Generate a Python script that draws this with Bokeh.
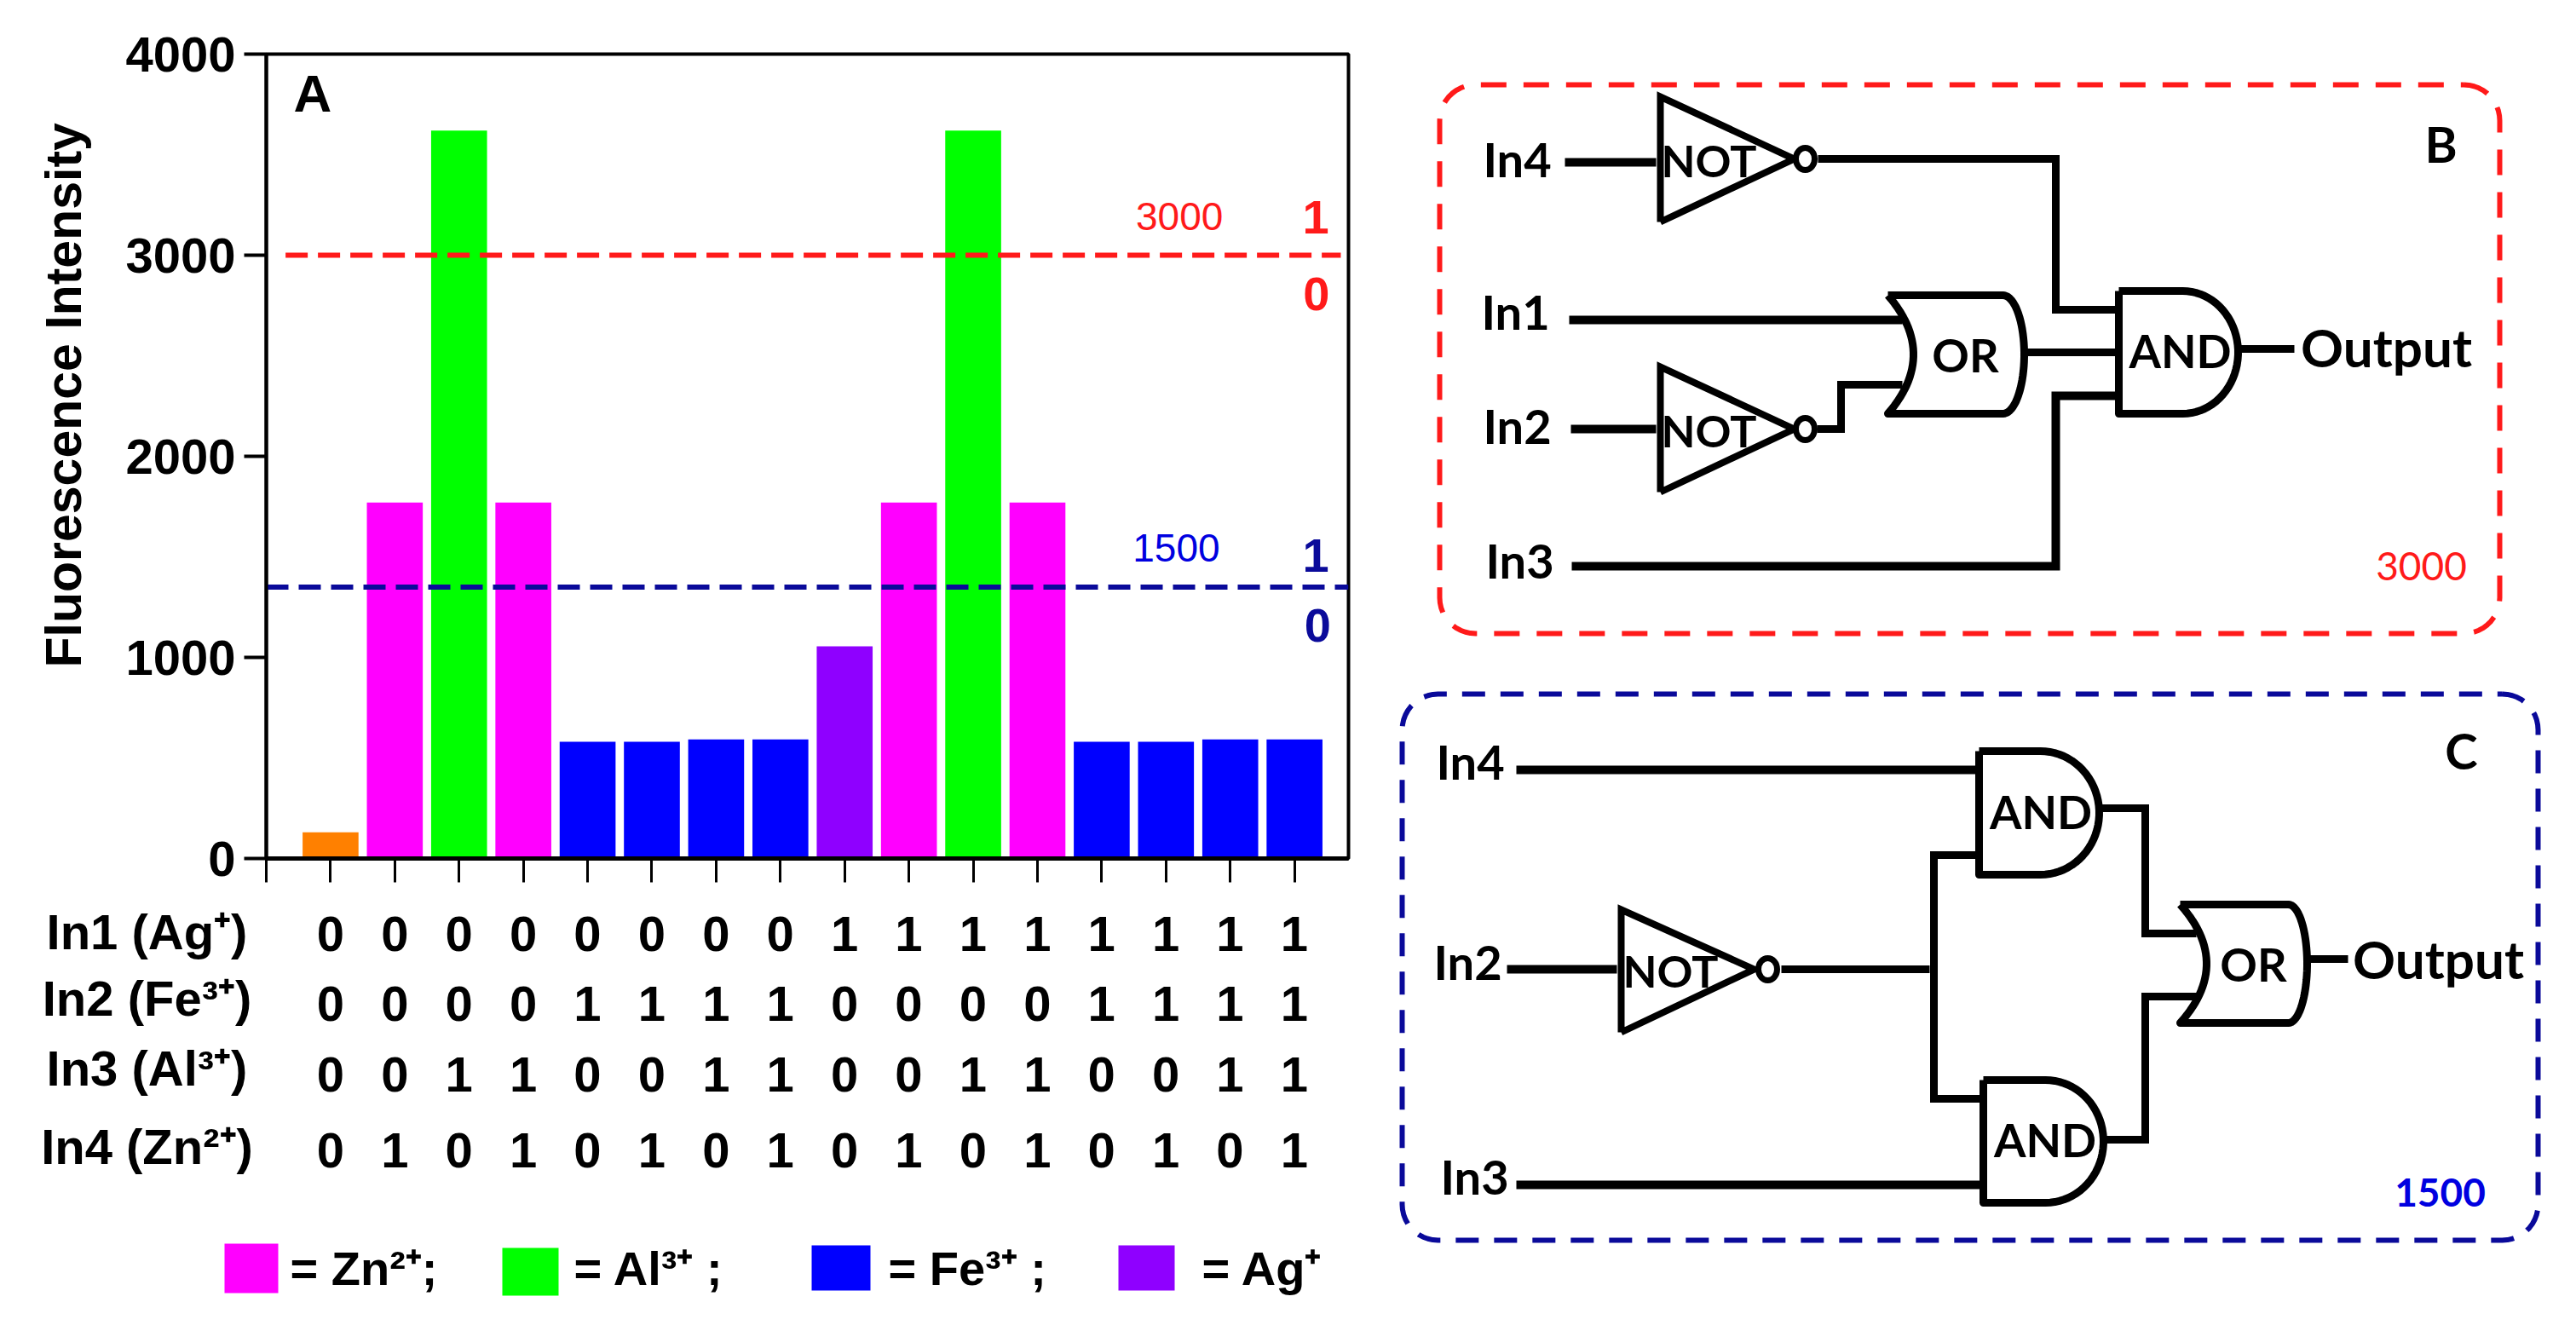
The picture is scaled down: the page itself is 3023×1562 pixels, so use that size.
import numpy as np
from bokeh.plotting import figure
from bokeh.layouts import row, column
from bokeh.models import Range1d, FixedTicker, Title
from bokeh.core.properties import value
from bokeh.embed import file_html
from bokeh.resources import INLINE

# ---------- data ----------
positions = list(range(1, 17))
intensity = [130, 1770, 3620, 1770, 580, 580, 592, 592, 1055, 1770, 3620, 1770, 580, 580, 592, 592]
bar_colors = ["#FF8000", "#FF00FF", "#00FF00", "#FF00FF", "#0000FF", "#0000FF", "#0000FF", "#0000FF",
              "#8F00FF", "#FF00FF", "#00FF00", "#FF00FF", "#0000FF", "#0000FF", "#0000FF", "#0000FF"]
y_ticks = [0, 1000, 2000, 3000, 4000]
x_ticks = list(range(0, 17))
red_threshold = 3000
blue_threshold = 1350
in1 = [0, 0, 0, 0, 0, 0, 0, 0, 1, 1, 1, 1, 1, 1, 1, 1]
in2 = [0, 0, 0, 0, 1, 1, 1, 1, 0, 0, 0, 0, 1, 1, 1, 1]
in3 = [0, 0, 1, 1, 0, 0, 1, 1, 0, 0, 1, 1, 0, 0, 1, 1]
in4 = [0, 1, 0, 1, 0, 1, 0, 1, 0, 1, 0, 1, 0, 1, 0, 1]
row_labels = ["In1 (Ag⁺)", "In2 (Fe³⁺)", "In3 (Al³⁺)", "In4 (Zn²⁺)"]
legend_labels = ["= Zn²⁺;", "= Al³⁺ ;", "= Fe³⁺ ;", "= Ag⁺"]
legend_colors = ["#FF00FF", "#00FF00", "#0000FF", "#8F00FF"]

ARIAL = value("Liberation Sans")
LATO = value("Lato")
RED = "#FF1A1A"
NAVY = "#0A0A9A"

# ---------- panel A ----------
px_per_unit = 75.4
A = figure(width=1640, height=1040, x_range=Range1d(0, 16.84), y_range=Range1d(0, 4000),
           output_backend="svg", toolbar_location=None, frame_align=False,
           min_border_left=312, min_border_right=58, min_border_top=63, min_border_bottom=33)
A.grid.visible = False
A.outline_line_color = "black"
A.outline_line_width = 4
A.background_fill_color = "white"
A.vbar(x=positions, top=intensity, bottom=0, width=0.87, fill_color=bar_colors, line_color=None)
A.line([0.3, 16.72], [red_threshold, red_threshold], line_color=RED, line_width=6, line_dash="26 12")
A.line([0, 16.84], [blue_threshold, blue_threshold], line_color=NAVY, line_width=6, line_dash="26 12")

A.yaxis.ticker = FixedTicker(ticks=y_ticks)
A.yaxis.minor_tick_line_color = None
A.yaxis.major_tick_in = 0
A.yaxis.major_tick_out = 26
A.yaxis.major_tick_line_width = 4
A.yaxis.axis_line_width = 4
A.yaxis.major_label_text_font = "Liberation Sans"
A.yaxis.major_label_text_font_style = "bold"
A.yaxis.major_label_text_font_size = "58px"
A.yaxis.major_label_text_color = "black"
A.yaxis.major_label_standoff = 10

A.xaxis.ticker = FixedTicker(ticks=x_ticks)
A.xaxis.minor_tick_line_color = None
A.xaxis.major_tick_in = 0
A.xaxis.major_tick_out = 28
A.xaxis.major_tick_line_width = 3
A.xaxis.axis_line_width = 5
A.xaxis.major_label_overrides = {t: "" for t in x_ticks}

# y title sits above the middle of the axis in the reference
A.add_layout(Title(text="Fluorescence Intensity", align="left", offset=224, standoff=73,
                   text_font="Liberation Sans", text_font_style="bold",
                   text_font_size="59px", text_color="black"), "left")


def a_text(xv, yv, s, color, size, style="bold"):
    A.text([xv], [yv], text=[s], text_color=color, text_font=ARIAL, text_font_size=size,
           text_font_style=style, text_align="center", text_baseline="middle")


a_text(0.72, 3805, "A", "black", "62px")
a_text(14.21, 3192, "3000", RED, "46px", "normal")
a_text(16.33, 3190, "1", RED, "56px")
a_text(16.34, 2807, "0", RED, "56px")
a_text(14.16, 1546, "1500", "#0000E0", "46px", "normal")
a_text(16.33, 1505, "1", NAVY, "56px")
a_text(16.36, 1160, "0", NAVY, "56px")

# ---------- truth table + legend ----------
T = figure(width=1640, height=514, x_range=Range1d((0 - 312) / px_per_unit, (1640 - 312) / px_per_unit),
           y_range=Range1d(1554, 1040), output_backend="svg", toolbar_location=None, frame_align=False,
           x_axis_type=None, y_axis_type=None, min_border=0)
T.grid.visible = False
T.outline_line_color = None
row_y = [1095, 1177, 1260, 1349]
label_y = [1093, 1171, 1253, 1345]
for states, yy, ly, lab in zip([in1, in2, in3, in4], row_y, label_y, row_labels):
    T.text(positions, [yy] * 16, text=[str(s) for s in states], text_color="black", text_font=ARIAL,
           text_font_size="58px", text_font_style="bold", text_align="center", text_baseline="middle")
    T.text([(172 - 312) / px_per_unit], [ly], text=[lab], text_color="black", text_font=ARIAL,
           text_font_size="58px", text_font_style="bold", text_align="center", text_baseline="middle")

sw_left = [263, 589, 952, 1312]
sw_right = [326, 655, 1021, 1378]
sw_top = [1459, 1464, 1461, 1461]
sw_bot = [1517, 1520, 1514, 1514]
lab_x = [340, 673, 1042, 1410]
to_x = lambda v: (np.array(v) - 312) / px_per_unit
T.quad(left=to_x(sw_left), right=to_x(sw_right), top=sw_top, bottom=sw_bot,
       fill_color=legend_colors, line_color=None)
T.text(to_x(lab_x), [1488] * 4, text=legend_labels, text_color="black", text_font=ARIAL,
       text_font_size="56px", text_font_style="bold", text_align="left", text_baseline="middle")

# ---------- logic diagrams (page pixel coordinates) ----------
D = figure(width=1375, height=1554, x_range=Range1d(1640, 3015), y_range=Range1d(1554, 0),
           output_backend="svg", toolbar_location=None, frame_align=False,
           x_axis_type=None, y_axis_type=None, min_border=0)
D.grid.visible = False
D.outline_line_color = None


def wire(xs, ys, w=9):
    D.line(xs, ys, line_color="black", line_width=w, line_join="miter")


def label(xv, yv, s, size="56px", color="black", style="bold"):
    D.text([xv], [yv], text=[s], text_color=color, text_font=LATO, text_font_size=size,
           text_font_style=style, text_align="center", text_baseline="middle")


def round_box(l, r, t, b, rad, color, dash):
    th = np.linspace(0, np.pi / 2, 12)
    xs = np.concatenate([r - rad + rad * np.sin(th), r - rad + rad * np.cos(th),
                         l + rad - rad * np.sin(th), l + rad - rad * np.cos(th), [r - rad]])
    ys = np.concatenate([t + rad - rad * np.cos(th), b - rad + rad * np.sin(th),
                         b - rad + rad * np.cos(th), t + rad - rad * np.sin(th), [t]])
    D.line(xs, ys, line_color=color, line_width=6, line_dash=dash)


def not_gate(l, t, b, tip, cy, bub_x, text_x):
    D.line([l, l, tip, l], [b, t, cy, b], line_color="black", line_width=8, line_join="miter")
    D.ellipse([bub_x], [cy], width=22, height=26, fill_color="white", line_color="black", line_width=7)
    label(text_x, cy + 1, "NOT", "52px")


def and_gate(l, s, tip, t, b, text="AND"):
    cy = (t + b) / 2
    th = np.linspace(-np.pi / 2, np.pi / 2, 40)
    xs = np.concatenate([[l], s + (tip - s) * np.cos(th), [l, l]])
    ys = np.concatenate([[t], cy + (b - t) / 2 * np.sin(th), [b, t]])
    D.line(xs, ys, line_color="black", line_width=9, line_join="round")
    label((l + tip) / 2 + 2, cy - 2, text, "54px")


def or_gate(l, back, s, tip, t, b):
    cy = (t + b) / 2
    th = np.linspace(-np.pi / 2, np.pi / 2, 40)
    u = np.linspace(1, -1, 30)
    xs = np.concatenate([[l], s + (tip - s) * np.cos(th), [l], l + (back - l) * (1 - u ** 2)])
    ys = np.concatenate([[t], cy + (b - t) / 2 * np.sin(th), [b], cy + (b - t) / 2 * u])
    D.line(xs, ys, line_color="black", line_width=9, line_join="round")
    label((back + tip) / 2 - 4, cy, "OR", "54px")


# panel B
round_box(1689, 2933, 99, 743, 42, RED, "30 20")
label(1780, 186, "In4"); label(1778, 365, "In1"); label(1780, 499, "In2"); label(1783, 657, "In3")
wire([1836, 1943], [190, 190], 10)
not_gate(1948, 113, 260, 2105, 186, 2118, 2005)
wire([2133, 2412, 2412, 2482], [186, 186, 363, 363])
wire([1841, 2232], [375, 375], 10)
not_gate(1948, 430, 577, 2105, 503, 2118, 2005)
wire([1843, 1943], [503, 503], 10)
wire([2132, 2160, 2160, 2232], [503, 503, 451, 451])
or_gate(2215, 2245, 2350, 2375, 346, 485)
wire([2378, 2482], [413, 413])
and_gate(2486, 2561, 2626, 341, 485)
wire([1844, 2412, 2412, 2482], [664, 664, 464, 464], 10)
wire([2629, 2692], [409, 409])
label(2800, 406, "Output", "62px")
label(2864, 168, "B", "58px")
label(2841, 664, "3000", "46px", RED, "normal")

# panel C
round_box(1645, 2978, 814, 1455, 42, NAVY, "27 18")
label(1725, 893, "In4"); label(1722, 1128, "In2"); label(1730, 1380, "In3")
wire([1779, 2322], [903, 903], 10)
and_gate(2322, 2394, 2463, 881, 1026)
wire([1768, 1897], [1137, 1137], 10)
not_gate(1902, 1067, 1211, 2058, 1137, 2074, 1960)
wire([2090, 2264], [1137, 1137])
wire([2322, 2269, 2269, 2327], [1003, 1003, 1289, 1289])
and_gate(2327, 2400, 2468, 1267, 1411)
wire([1779, 2327], [1390, 1390], 10)
wire([2466, 2517, 2517, 2577], [948, 948, 1095, 1095])
wire([2470, 2517, 2517, 2577], [1337, 1337, 1169, 1169])
or_gate(2558, 2589, 2685, 2707, 1061, 1200)
wire([2710, 2755], [1125, 1125])
label(2861, 1124, "Output", "62px")
label(2888, 880, "C", "58px")
label(2863, 1399, "1500", "46px", "#0000E0", "bold")

page = row(column(A, T, spacing=0), D, spacing=0)
open("out.html", "w").write(file_html(page, INLINE))
